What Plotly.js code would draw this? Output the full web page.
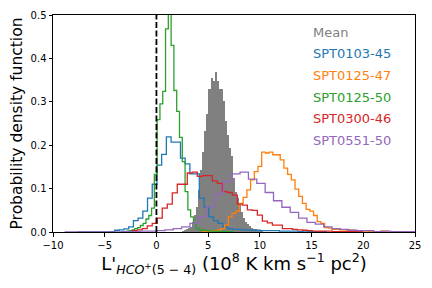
<!DOCTYPE html>
<html><head><meta charset="utf-8">
<script src="https://cdn.plot.ly/plotly-3.0.1.min.js"></script>
<style>html,body{margin:0;padding:0;background:#fff}</style>
</head><body><div id="chart" style="width:432px;height:288px"></div>
<script>
// ---- data (histogram bin start, bin width, densities) ----
const seriesNames = ["Mean", "SPT0103-45", "SPT0125-47", "SPT0125-50", "SPT0300-46", "SPT0551-50"];
const seriesColors = ["#808080", "#1f77b4", "#ff7f0e", "#2ca02c", "#d62728", "#9467bd"];

const meanStart = 2.47, meanWidth = 0.19;
const meanValues = [0.003, 0.005, 0.007, 0.01, 0.012, 0.024, 0.039, 0.058, 0.097, 0.143,
  0.185, 0.232, 0.272, 0.33, 0.33, 0.355, 0.349, 0.368, 0.349, 0.33,
  0.33, 0.301, 0.255, 0.224, 0.193, 0.174, 0.124, 0.093, 0.078, 0.062,
  0.047, 0.032, 0.024, 0.018, 0.013, 0.01, 0.008, 0.006, 0.004, 0.003, 0.002];

const spt0103Start = -7.685, spt0103Width = 0.455;
const spt0103Values = [0, 0, 0, 0, 0, 0, 0,
  0.001, 0.004, 0.005, 0.007, 0.012, 0.026, 0.032, 0.048, 0.078, 0.11,
  0.154, 0.179, 0.219, 0.207, 0.207, 0.17, 0.157, 0.134, 0.134, 0.078,
  0.058, 0.035, 0.026, 0.02, 0.012, 0.008, 0.006, 0.006, 0.005, 0.005,
  0.004, 0.004, 0.003, 0.003, 0.003, 0.003, 0.002, 0.002, 0.002, 0.002,
  0.001, 0.002, 0.001, 0.001, 0.001, 0.001];

const spt0125_47Start = 4.45, spt0125_47Width = 0.358;
const spt0125_47Values = [0.001, 0.002, 0.003, 0.003, 0.005, 0.008, 0.016, 0.035, 0.043, 0.048,
  0.066, 0.08, 0.097, 0.12, 0.139, 0.151, 0.184, 0.182, 0.184, 0.178,
  0.178, 0.166, 0.147, 0.133, 0.12, 0.099, 0.082, 0.066, 0.052, 0.048,
  0.038, 0.024, 0.02, 0.01, 0.009, 0.006, 0.006, 0.005, 0.005, 0.004,
  0.004, 0.002, 0.002, 0.002, 0.002, 0.001, 0.001, 0.0, 0.002, 0.002];

const spt0125_50Start = -3.44, spt0125_50Width = 0.27;
const spt0125_50Values = [0, 0, 0.002, 0.003, 0.005, 0.008, 0.01, 0.015, 0.02, 0.03, 0.038, 0.055,
  0.133, 0.259, 0.295, 0.324, 0.468, 0.51, 0.43, 0.326, 0.278, 0.218,
  0.162, 0.093, 0.051, 0.035, 0.02, 0.008, 0.005, 0.004, 0.003, 0.003,
  0.002, 0.002, 0.002, 0.001, 0.001, 0.001, 0.001, 0.001];

const spt0300Start = -2.34, spt0300Width = 0.484;
const spt0300Values = [0.003, 0.005, 0.008, 0.014, 0.02, 0.032, 0.055, 0.064, 0.09, 0.11,
  0.11, 0.136, 0.138, 0.128, 0.13, 0.13, 0.118, 0.112, 0.093, 0.091,
  0.085, 0.064, 0.062, 0.051, 0.05, 0.039, 0.025, 0.021, 0.016, 0.016,
  0.008, 0.008, 0.006, 0.005, 0.004, 0.003, 0.002, 0.002, 0.002, 0.002,
  0.001, 0.001, 0.001, 0.001, 0.001, 0.001];

const spt0551Start = -8.88, spt0551Width = 0.808;
const spt0551Values = [0, 0, 0, 0, 0, 0, 0, 0.001, 0.001, 0.002,
  0.002, 0.003, 0.005, 0.008, 0.012, 0.02, 0.035, 0.058, 0.088, 0.116,
  0.134, 0.138, 0.122, 0.112, 0.091, 0.072, 0.057, 0.045, 0.032, 0.022,
  0.018, 0.012, 0.008, 0.006, 0.004, 0.003, 0.003, 0.001, 0.002, 0.001,
  0.001, 0.001, 0.001];

const xTicks = [-10, -5, 0, 5, 10, 15, 20, 25];
const yTicks = [0.0, 0.1, 0.2, 0.3, 0.4, 0.5];
const zeroLine = 0;

// ---- build traces ----
function stepTrace(start, width, values, color) {
  const x = [start], y = [0];
  for (let i = 0; i < values.length; i++) { x.push(start + i * width); y.push(values[i]); }
  x.push(start + values.length * width); y.push(0);
  return {type: 'scatter', mode: 'lines', x: x, y: y,
    line: {shape: 'hv', color: color, width: 1.3}, showlegend: false, hoverinfo: 'skip'};
}

const meanCenters = meanValues.map((v, i) => meanStart + (i + 0.5) * meanWidth);
const traces = [
  {type: 'bar', x: meanCenters, y: meanValues, width: meanWidth,
   marker: {color: seriesColors[0], line: {width: 0}}, showlegend: false, hoverinfo: 'skip'},
  stepTrace(spt0103Start, spt0103Width, spt0103Values, seriesColors[1]),
  stepTrace(spt0125_47Start, spt0125_47Width, spt0125_47Values, seriesColors[2]),
  stepTrace(spt0125_50Start, spt0125_50Width, spt0125_50Values, seriesColors[3]),
  stepTrace(spt0300Start, spt0300Width, spt0300Values, seriesColors[4]),
  stepTrace(spt0551Start, spt0551Width, spt0551Values, seriesColors[5])
];

const legendY = [0.918, 0.822, 0.722, 0.622, 0.521, 0.423];
const annotations = seriesNames.map((n, i) => ({
  text: n, xref: 'paper', yref: 'paper', x: 0.712, y: legendY[i],
  xanchor: 'left', yanchor: 'middle', showarrow: false,
  font: {family: 'DejaVu Sans', size: 13, color: seriesColors[i]}
}));

const axisCommon = {showline: true, linecolor: '#000', linewidth: 1, mirror: true,
  ticks: 'outside', ticklen: 3.5, tickwidth: 1, tickcolor: '#000',
  showgrid: false, zeroline: false, tickfont: {family: 'DejaVu Sans', size: 10, color: '#000'}};

const layout = {
  width: 432, height: 288,
  margin: {l: 53, r: 17, t: 15, b: 56},
  paper_bgcolor: '#fff', plot_bgcolor: '#fff',
  bargap: 0,
  font: {family: 'DejaVu Sans', color: '#000'},
  xaxis: Object.assign({}, axisCommon, {range: [-10, 25], tickvals: xTicks,
    title: {text: "L'<sub><i>HCO</i><sup>+</sup>(5 − 4)</sub> (10<sup>8</sup> K km s<sup>−1</sup> pc<sup>2</sup>)",
      font: {family: 'DejaVu Sans', size: 18, color: '#000'}, standoff: 6}}),
  yaxis: Object.assign({}, axisCommon, {range: [0, 0.5], tickvals: yTicks, tickformat: '.1f',
    title: {text: 'Probability density function', font: {family: 'DejaVu Sans', size: 15.5, color: '#000'}, standoff: 4}}),
  shapes: [{type: 'line', xref: 'x', yref: 'paper', x0: zeroLine, x1: zeroLine, y0: 0, y1: 1,
    line: {color: '#000', width: 1.8, dash: '6px,2.5px'}, layer: 'above'}],
  annotations: annotations
};

Plotly.newPlot('chart', traces, layout, {displayModeBar: false, staticPlot: true});
</script></body></html>
